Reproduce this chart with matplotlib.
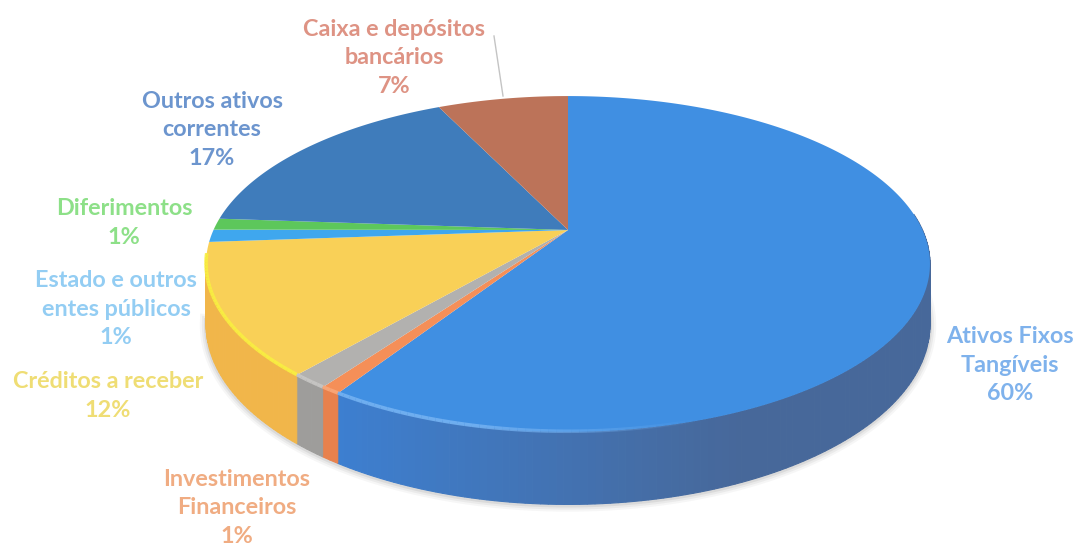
import numpy as np
import matplotlib
matplotlib.use('Agg')
import matplotlib.pyplot as plt
from matplotlib.colors import to_rgb
from matplotlib.path import Path
from matplotlib.transforms import Affine2D, Transform

plt.rcParams['font.family'] = ['Lato', 'DejaVu Sans']

# order: clockwise from 12 o'clock
names = ['Ativos Fixos\nTangíveis', 'Investimentos\nFinanceiros', 'Outros', 'Créditos a receber',
         'Estado e outros\nentes públicos', 'Diferimentos', 'Outros ativos\ncorrentes',
         'Caixa e depósitos\nbancários']
# values (printed labels are rounded)
values = [59.15, 0.75, 1.4, 12.65, 1.2, 1.1, 16.8, 7.1]
percent_labels = ['60%', '1%', None, '12%', '1%', '1%', '17%', '7%']

top_colors = ['#408FE2', '#F58F58', '#B2B1AF', '#F9D057', '#3FA7EE', '#5DC75B', '#3F7CBB', '#BC7359']
side_left = ['#3D7FD0', '#E8814D', '#9E9D9B', '#F1B64A', '#2F88CC', '#49A548', '#33659A', '#9C5F49']
side_right = ['#47689A', '#E8814D', '#9E9D9B', '#EFB44C', '#2F88CC', '#49A548', '#33659A', '#9C5F49']
rim_colors = ['#74B2F2', '#F9A87A', '#C8C7C5', '#F8F040', '#3FA7EE', '#5DC75B', '#3F7CBB', '#BC7359']
text_colors = ['#7FB2EC', '#F0AC82', None, '#EFDD74', '#93CDF3', '#8DE088', '#6C95CE', '#DE9384']

label_x = [1010, 237, None, 108, 116, 124, 212, 394]
label_y = [365, 508, None, 396, 309, 223, 130, 58]

CX, CY = 568, 230
A, B, K = 354.5, 161.0, 0.202
DEPTH = 58.0


class Tilt(Transform):
    # unit disc -> pixel position, with perspective
    input_dims = output_dims = 2

    def __init__(self, drop=0.0):
        super().__init__()
        self.drop = drop

    def transform_non_affine(self, values):
        v = np.asarray(values, dtype=float)
        w = 1 + K * v[:, 1]
        return np.column_stack([CX + A * v[:, 0] / w, CY + (self.drop - B * v[:, 1]) / w])

    def transform_path_non_affine(self, path):
        # scale up first so the curve is flattened finely
        poly = path.transformed(Affine2D().scale(2000)).to_polygons(closed_only=True)[0] / 2000
        return Path(self.transform_non_affine(poly), closed=True)


fig = plt.figure(figsize=(10.76, 5.48), dpi=100)
ax = fig.add_axes([0, 0, 1, 1])

wedges, _ = ax.pie(values, startangle=90, counterclock=False, colors=top_colors, radius=1)
ax.set_aspect('auto')
ax.set_xlim(0, 1076)
ax.set_ylim(548, 0)
ax.axis('off')

top = Tilt()
low = Tilt(DEPTH)
for w in wedges:
    w.set_transform(top + ax.transData)
    w.set_zorder(5)
    w.set_linewidth(0)


def circle(theta):
    return np.column_stack([np.cos(np.radians(theta)), np.sin(np.radians(theta))])


bounds = 90 - np.cumsum([0] + values) / sum(values) * 360

# soft shadow under the front edge
th = np.linspace(-170, 0, 200)
shadow = low.transform(circle(th))
for lw, a in [(9, 0.05), (6, 0.07), (3, 0.10)]:
    ax.plot(shadow[:, 0], shadow[:, 1] + 1, color='#555555', lw=lw, alpha=a, zorder=1)

# side wall and bright rim, slice by slice
for i in range(len(values)):
    t0, t1 = bounds[i], bounds[i + 1]
    steps = max(int((t0 - t1) / 1.0), 2)
    th = np.linspace(t0, t1, steps + 1)
    upper = top.transform(circle(th))
    lower = low.transform(circle(th))
    c0, c1 = np.array(to_rgb(side_right[i])), np.array(to_rgb(side_left[i]))
    for j in range(steps):
        if th[j] > 6 or th[j + 1] < -172:
            continue
        f = np.clip((upper[j, 0] - 340) / 400, 0, 1)
        col = c0 * f + c1 * (1 - f)
        xs = [upper[j, 0], upper[j + 1, 0], lower[j + 1, 0], lower[j, 0]]
        ys = [upper[j, 1], upper[j + 1, 1], lower[j + 1, 1], lower[j, 1]]
        ax.fill(xs, ys, color=col, lw=0.8, zorder=2)
        # rim fades out towards the front-right
        if -172 < th[j] < -72:
            a = min(0.9, (-72 - th[j]) / 30 * 0.9)
            ax.plot(upper[j:j + 2, 0], upper[j:j + 2, 1] - 0.5, color=rim_colors[i], lw=2.6,
                    alpha=a, zorder=6, solid_capstyle='butt')

# labels
for i in range(len(values)):
    if percent_labels[i] is None:
        continue
    ax.text(label_x[i], label_y[i], names[i] + '\n' + percent_labels[i], color=text_colors[i],
            fontsize=16.8, fontweight='bold', ha='center', va='center', linespacing=1.46, zorder=8)

# leader line for the top label
ax.plot([494, 503], [36, 96], color='#C4C4C4', lw=1.0, zorder=3)

fig.savefig('out.png', dpi=100, facecolor='white')
plt.close(fig)
